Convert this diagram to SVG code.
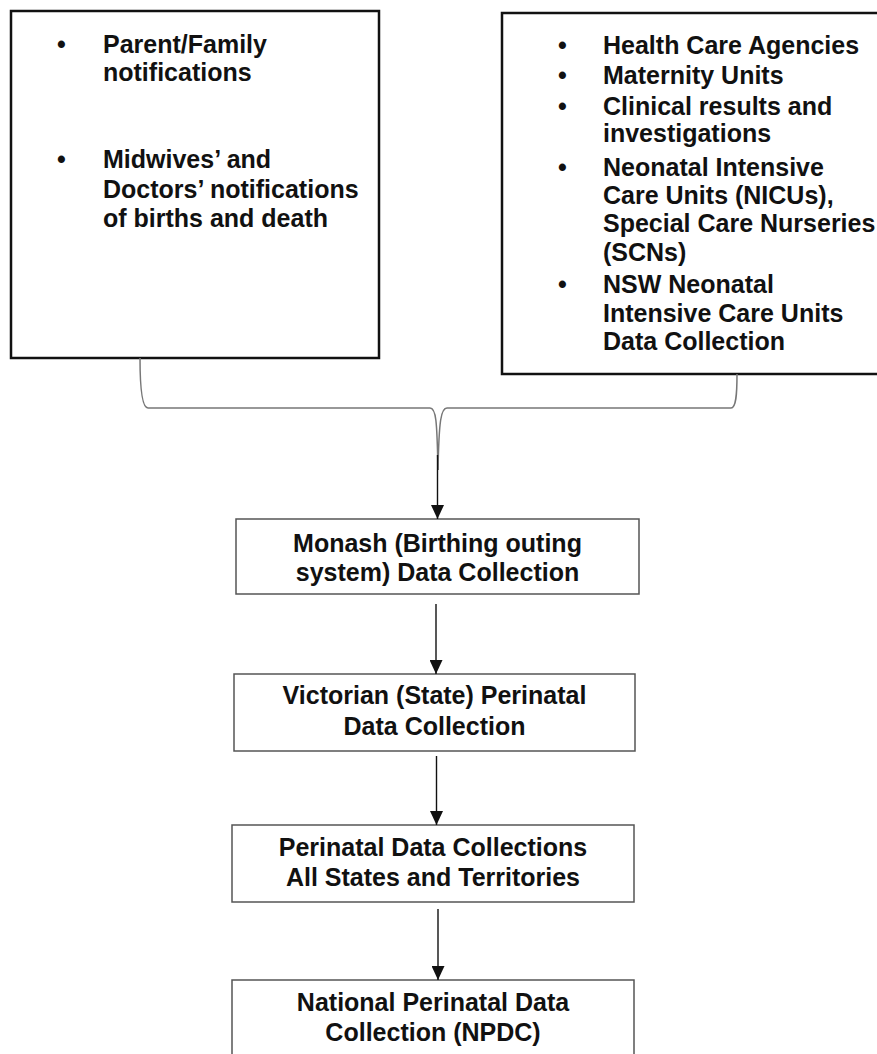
<svg xmlns="http://www.w3.org/2000/svg" width="877" height="1054" viewBox="0 0 877 1054">
<defs>
<style>
text{font-family:"Liberation Sans",Arial,sans-serif;font-weight:bold;font-size:25px;fill:#111}
.src{fill:#fff;stroke:#111;stroke-width:2.5}
.box{fill:#fff;stroke:#555;stroke-width:1.5}
.c{text-anchor:middle}
.brace{fill:none;stroke:#777;stroke-width:1.5}
.conn{fill:none;stroke:#111;stroke-width:1.4}
</style>
<marker id="ah" markerWidth="14" markerHeight="13" refX="14" refY="6.5" orient="auto" markerUnits="userSpaceOnUse">
<path d="M0,0 L14,6.5 L0,13 Z" fill="#111"/>
</marker>
</defs>
<rect width="877" height="1054" fill="#fff"/>
<g id="sources-left">
<rect class="src" x="11" y="11" width="368" height="347"/>
<text x="57" y="53">•</text>
<text x="103" y="53">Parent/Family</text>
<text x="103" y="81">notifications</text>
<text x="57" y="168">•</text>
<text x="103" y="168">Midwives’ and</text>
<text x="103" y="198">Doctors’ notifications</text>
<text x="103" y="227">of births and death</text>
</g>
<g id="sources-right">
<rect class="src" x="502" y="13" width="400" height="361"/>
<text x="558" y="54">•</text>
<text x="603" y="54">Health Care Agencies</text>
<text x="558" y="84">•</text>
<text x="603" y="84">Maternity Units</text>
<text x="558" y="115">•</text>
<text x="603" y="115">Clinical results and</text>
<text x="603" y="142">investigations</text>
<text x="558" y="176">•</text>
<text x="603" y="176">Neonatal Intensive</text>
<text x="603" y="204">Care Units (NICUs),</text>
<text x="603" y="232">Special Care Nurseries</text>
<text x="603" y="261">(SCNs)</text>
<text x="558" y="293">•</text>
<text x="603" y="293">NSW Neonatal</text>
<text x="603" y="322">Intensive Care Units</text>
<text x="603" y="350">Data Collection</text>
</g>
<g id="monash">
<rect class="box" x="236" y="519" width="403" height="75"/>
<text class="c" x="437.5" y="552">Monash (Birthing outing</text>
<text class="c" x="437.5" y="581">system) Data Collection</text>
</g>
<g id="victorian">
<rect class="box" x="234" y="674" width="401" height="77"/>
<text class="c" x="434.5" y="704">Victorian (State) Perinatal</text>
<text class="c" x="434.5" y="735">Data Collection</text>
</g>
<g id="perinatal">
<rect class="box" x="232" y="825" width="402" height="77"/>
<text class="c" x="433" y="856">Perinatal Data Collections</text>
<text class="c" x="433" y="886">All States and Territories</text>
</g>
<g id="npdc">
<rect class="box" x="232" y="980" width="402" height="90"/>
<text class="c" x="433" y="1011">National Perinatal Data</text>
<text class="c" x="433" y="1041">Collection (NPDC)</text>
</g>
<g id="connectors">
<path class="brace" d="M140,358 C140,385 142,408 148,408 L430,408 C436,408 437,420 438,470"/>
<path class="brace" d="M737,374 C737,395 736,408 731,408 L447,408 C441,408 439,420 438,470"/>
<line class="conn" x1="437.5" y1="455" x2="437.5" y2="519" marker-end="url(#ah)"/>
<line class="conn" x1="436" y1="604" x2="436" y2="674" marker-end="url(#ah)"/>
<line class="conn" x1="436.5" y1="756" x2="436.5" y2="825" marker-end="url(#ah)"/>
<line class="conn" x1="438" y1="909" x2="438" y2="980" marker-end="url(#ah)"/>
</g>
</svg>
